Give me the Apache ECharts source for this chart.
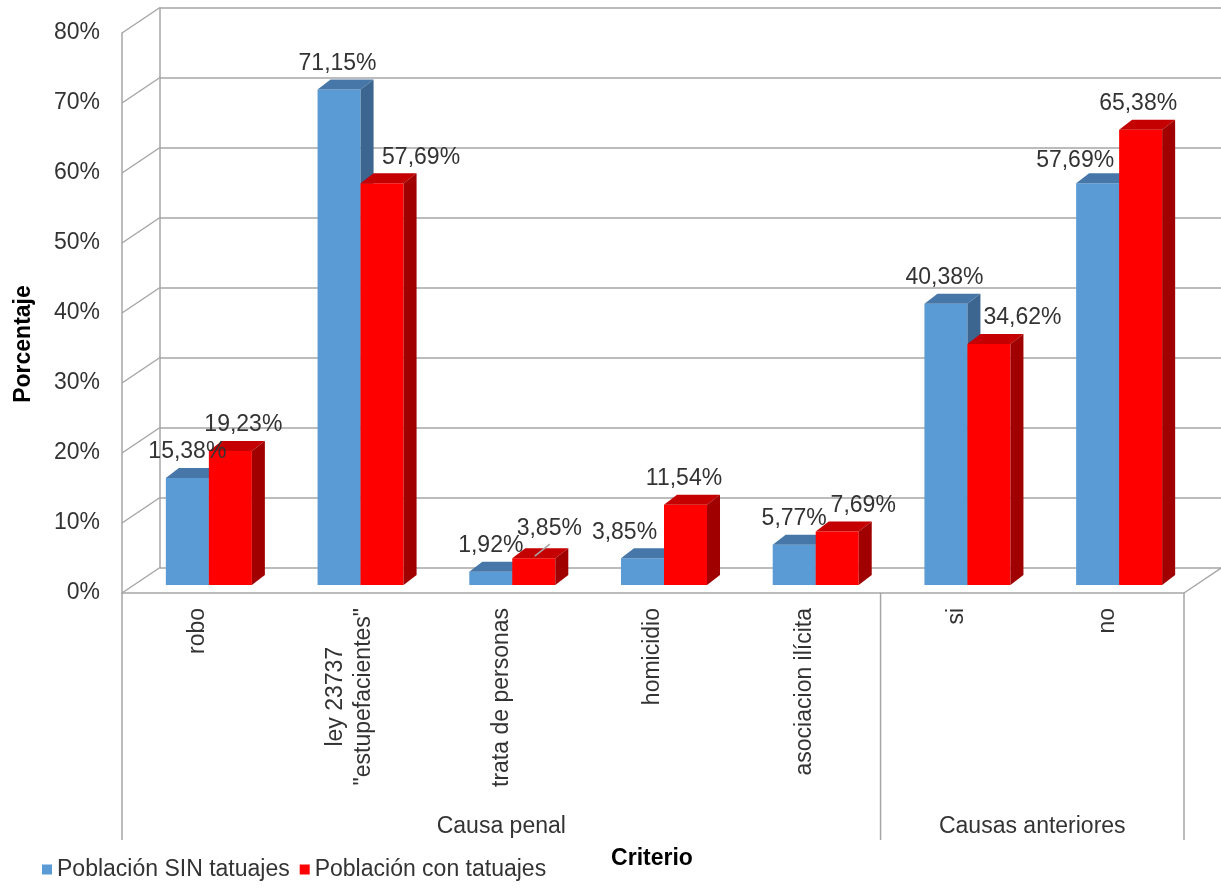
<!DOCTYPE html>
<html>
<head>
<meta charset="utf-8">
<script src="https://cdn.jsdelivr.net/npm/echarts@6/dist/echarts.min.js"></script>
<style>
  html, body { margin: 0; padding: 0; background: #ffffff; }
  #chart { width: 1221px; height: 889px; }
</style>
</head>
<body>
<div id="chart"></div>
<script>
// ---- data ----
const categories = ['robo', 'ley 23737\n"estupefacientes"', 'trata de personas', 'homicidio', 'asociacion ilícita', 'si', 'no'];
const groupNames = ['Causa penal', 'Causas anteriores'];
const groupSizes = [5, 2];
const seriesNames = ['Población SIN tatuajes', 'Población con tatuajes'];
const sinTatuajes = [15.38, 71.15, 1.92, 3.85, 5.77, 40.38, 57.69];
const conTatuajes = [19.23, 57.69, 3.85, 11.54, 7.69, 34.62, 65.38];
const yTicks = [0, 10, 20, 30, 40, 50, 60, 70, 80];

// ---- look ----
const FONT = '"Liberation Sans", Arial, Helvetica, sans-serif';
const TEXT = '#333333';
const GRID_LINE = '#A6A6A6';
const WALL = [38, 25.5];     // front-to-back offset of the walls, px
const DEPTH = [13, 10];      // bar depth offset, px
const BAR_SHARE = 0.2835;    // bar width as share of a category band
const PALETTE = [
  { front: '#5B9BD5', top: '#4677A8', side: '#3C668F' },
  { front: '#FF0000', top: '#C40000', side: '#A00000' }
];
// value-label placement tweaks (px) so labels clear each other
const labelShiftX = [
  [0, -1.5, 0, -18, 0, -1.5, -22.5],
  [13, 39, 15.5, -1.5, 26, 33.5, -2.5]
];
const labelShiftY = [
  [0, 0, 0, 0, 0, 0, 3],
  [0, 0, -4, 0, 0, 0, 0]
];
const leaderLine = [
  [false, false, false, false, false, false, false],
  [false, false, true, false, false, false, false]
];

const fmt = v => v.toFixed(2).replace('.', ',') + '%';
const yMin = yTicks[0], yMax = yTicks[yTicks.length - 1], yStep = yTicks[1] - yTicks[0];

function renderBar(s) {
  return function (params, api) {
    const i = api.value(0), v = api.value(1);
    const band = api.size([1, 0])[0];
    const w = band * BAR_SHARE;
    const b = api.coord([i, 0]);
    const t = api.coord([i, v]);
    const x0 = s === 0 ? b[0] - w : b[0];
    const x1 = x0 + w, yb = b[1], yt = t[1];
    const dx = DEPTH[0], dy = DEPTH[1];
    const col = PALETTE[s];
    const children = [
      { type: 'rect', shape: { x: x0, y: yt, width: w, height: yb - yt }, style: { fill: col.front } },
      { type: 'polygon', shape: { points: [[x0, yt], [x0 + dx, yt - dy], [x1 + dx, yt - dy], [x1, yt]] }, style: { fill: col.top } },
      { type: 'polygon', shape: { points: [[x1, yt], [x1 + dx, yt - dy], [x1 + dx, yb - dy], [x1, yb]] }, style: { fill: col.side } }
    ];
    const cx = (x0 + x1) / 2;
    const lx = cx + labelShiftX[s][i];
    const ly = yt - 26 + labelShiftY[s][i];
    children.push({
      type: 'text', z2: 100,
      style: { text: fmt(v), x: lx, y: ly, align: 'center', verticalAlign: 'middle', font: '23px ' + FONT, fill: TEXT }
    });
    if (leaderLine[s][i]) {
      children.push({
        type: 'line', z2: 100,
        shape: { x1: cx + 1, y1: yt - 2, x2: cx + 16, y2: yt - 14 },
        style: { stroke: '#A6A6A6', lineWidth: 1.5 }
      });
    }
    return { type: 'group', children };
  };
}

function renderWall(params, api) {
  const v = api.value(1);
  const band = api.size([1, 0])[0];
  const p = api.coord([0, v]);
  const xl = p[0] - band / 2;
  const children = [{
    type: 'line', shape: { x1: xl, y1: p[1], x2: xl + WALL[0], y2: p[1] - WALL[1] },
    style: { stroke: GRID_LINE, lineWidth: 1.5 }
  }];
  if (v === yMin) {
    const xr = xl + categories.length * band;
    children.push({
      type: 'line', shape: { x1: xr, y1: p[1], x2: xr + WALL[0], y2: p[1] - WALL[1] },
      style: { stroke: GRID_LINE, lineWidth: 1.5 }
    });
  }
  return { type: 'group', children };
}

const groupStarts = groupSizes.map((n, g) => groupSizes.slice(0, g).reduce((a, b) => a + b, 0));

function renderGroup(params, api) {
  const start = api.value(0), n = api.value(1), g = params.dataIndex;
  const band = api.size([1, 0])[0];
  const base = api.coord([start, 0]);
  const xl = base[0] - band / 2, xr = xl + n * band, y0 = base[1];
  const children = [{
    type: 'line', shape: { x1: xl, y1: y0, x2: xl, y2: y0 + 247 },
    style: { stroke: GRID_LINE, lineWidth: 1.5 }
  }];
  if (g === groupSizes.length - 1) {
    children.push({
      type: 'line', shape: { x1: xr, y1: y0, x2: xr, y2: y0 + 247 },
      style: { stroke: GRID_LINE, lineWidth: 1.5 }
    });
  }
  children.push({
    type: 'text',
    style: { text: groupNames[g], x: (xl + xr) / 2, y: y0 + 234, align: 'center', verticalAlign: 'middle', font: '23px ' + FONT, fill: TEXT }
  });
  return { type: 'group', children };
}

const chart = echarts.init(document.getElementById('chart'), null, { renderer: 'canvas' });

const valueAxisBase = { type: 'value', min: yMin, max: yMax, interval: yStep };

chart.setOption({
  animation: false,
  backgroundColor: '#ffffff',
  textStyle: { fontFamily: FONT },
  grid: [
    { left: 160, top: 8, width: 1062, height: 559.5 },   // back wall
    { left: 133, top: 28, width: 1062, height: 557 },    // plane of the bars
    { left: 122, top: 33, width: 1062, height: 560 }     // front edge
  ],
  xAxis: [
    { type: 'category', gridIndex: 0, data: categories, show: false },
    { type: 'category', gridIndex: 1, data: categories, show: false },
    {
      type: 'category', gridIndex: 2, data: categories,
      axisLine: { show: true, lineStyle: { color: GRID_LINE, width: 1.5 } },
      axisTick: { show: false },
      axisLabel: {
        interval: 0, rotate: 90, margin: 15,
        formatter: val => val.split('\n').map(s => '{c|' + s + '}').join('\n'),
        rich: { c: { align: 'center', fontSize: 23, fontFamily: FONT, color: TEXT, lineHeight: 28 } }
      }
    }
  ],
  yAxis: [
    Object.assign({}, valueAxisBase, {
      gridIndex: 0,
      axisLine: { show: true, lineStyle: { color: GRID_LINE, width: 1.5 } },
      axisTick: { show: false }, axisLabel: { show: false },
      splitLine: { show: true, lineStyle: { color: GRID_LINE, width: 1.5 } }
    }),
    Object.assign({}, valueAxisBase, { gridIndex: 1, show: false, splitLine: { show: false } }),
    Object.assign({}, valueAxisBase, {
      gridIndex: 2,
      axisLine: { show: true, lineStyle: { color: GRID_LINE, width: 1.5 } },
      axisTick: { show: false },
      splitLine: { show: false },
      axisLabel: { formatter: '{value}%', margin: 22, fontSize: 23, fontFamily: FONT, color: TEXT }
    })
  ],
  legend: {
    data: seriesNames.map(n => ({ name: n, icon: 'rect' })),
    left: 37, top: 853,
    itemWidth: 10, itemHeight: 10, itemGap: 10,
    textStyle: { fontSize: 23, fontFamily: FONT, color: TEXT },
    selectedMode: false
  },
  graphic: [
    {
      type: 'text', x: 24, y: 344, rotation: Math.PI / 2,
      style: { text: 'Porcentaje', align: 'center', verticalAlign: 'middle', font: 'bold 23px ' + FONT, fill: '#000000' }
    },
    {
      type: 'text', x: 652, y: 859,
      style: { text: 'Criterio', align: 'center', verticalAlign: 'middle', font: 'bold 23px ' + FONT, fill: '#000000' }
    }
  ],
  series: [
    {
      type: 'custom', name: 'walls', xAxisIndex: 2, yAxisIndex: 2, z: 1, silent: true,
      data: yTicks.map(v => [0, v]), encode: { x: 0, y: 1 },
      renderItem: renderWall
    },
    {
      type: 'custom', name: 'groups', xAxisIndex: 2, yAxisIndex: 2, z: 1, silent: true,
      data: groupSizes.map((n, g) => [groupStarts[g], n]), encode: { x: 0 },
      renderItem: renderGroup
    },
    {
      type: 'custom', name: seriesNames[0], xAxisIndex: 1, yAxisIndex: 1, z: 2,
      itemStyle: { color: PALETTE[0].front },
      data: sinTatuajes.map((v, i) => [i, v]), encode: { x: 0, y: 1 },
      renderItem: renderBar(0)
    },
    {
      type: 'custom', name: seriesNames[1], xAxisIndex: 1, yAxisIndex: 1, z: 2,
      itemStyle: { color: PALETTE[1].front },
      data: conTatuajes.map((v, i) => [i, v]), encode: { x: 0, y: 1 },
      renderItem: renderBar(1)
    }
  ]
});
</script>
</body>
</html>
